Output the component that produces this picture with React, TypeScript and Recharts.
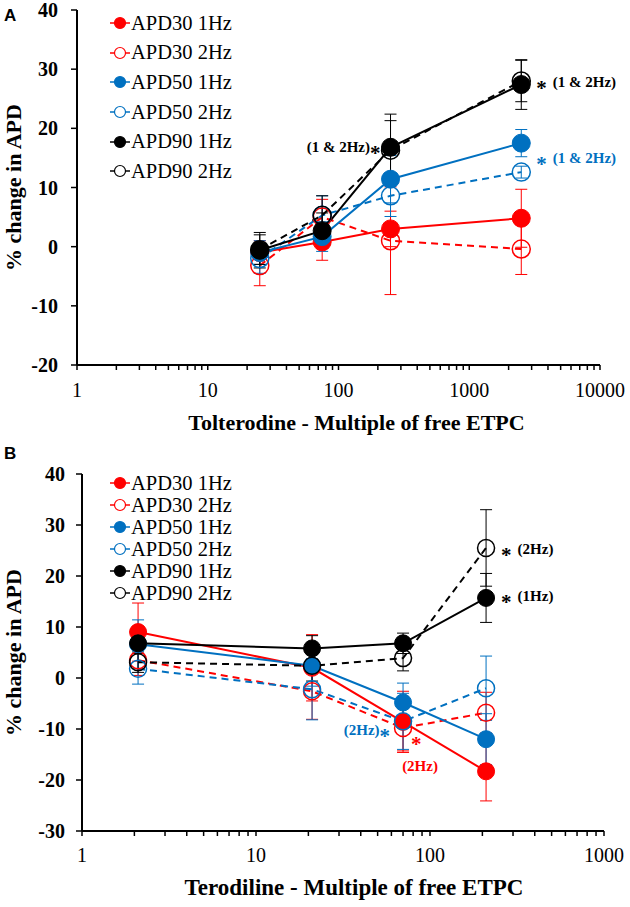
import React from 'react';
import { LineChart, Line, XAxis, YAxis, ErrorBar, ReferenceDot, Label } from 'recharts';

const RED = '#FF0000';
const BLUE = '#0070C0';
const BLACK = '#000000';
const SERIF = 'Liberation Serif, Times New Roman, serif';

// series shared by both panels
const seriesNames = ['APD30 1Hz', 'APD30 2Hz', 'APD50 1Hz', 'APD50 2Hz', 'APD90 1Hz', 'APD90 2Hz'];
const seriesColors = [RED, RED, BLUE, BLUE, BLACK, BLACK];
const seriesOpen = [false, true, false, true, false, true];

// ── Panel A: Tolterodine ──
const tolterodineX = [25, 75, 250, 2500];
const tolApd30_1Hz = [-1.0, 0.8, 3.0, 4.8];
const tolApd30_2Hz = [-3.2, 5.0, 1.0, -0.4];
const tolApd50_1Hz = [-1.0, 1.7, 11.4, 17.5];
const tolApd50_2Hz = [-2.0, 5.3, 8.6, 12.6];
const tolApd90_1Hz = [-0.6, 2.7, 16.8, 27.4];
const tolApd90_2Hz = [-0.5, 5.3, 16.3, 28.0];
const tolErr30_1Hz = [2.0, 3.1, 3.0, 4.9];
const tolErr30_2Hz = [3.4, 3.0, 9.1, 4.3];
const tolErr50_1Hz = [2.0, 2.5, 4.0, 2.3];
const tolErr50_2Hz = [2.5, 3.3, 3.5, 1.0];
const tolErr90_1Hz = [3.0, 3.0, 5.6, 4.2];
const tolErr90_2Hz = [2.5, 3.3, 5.0, 3.5];
const tolMajorTicks = [1, 10, 100, 1000, 10000];
const tolYTicks = [-20, -10, 0, 10, 20, 30, 40];

// ── Panel B: Terodiline ──
const terodilineX = [2.1, 21, 70, 210];
const terApd30_1Hz = [9.0, 2.0, -8.6, -18.3];
const terApd30_2Hz = [3.5, -2.6, -9.8, -6.8];
const terApd50_1Hz = [6.6, 2.4, -4.8, -12.0];
const terApd50_2Hz = [1.8, -2.2, -8.5, -2.0];
const terApd90_1Hz = [6.8, 5.8, 6.8, 15.7];
const terApd90_2Hz = [3.1, 2.4, 3.9, 25.5];
const terErr30_1Hz = [5.7, 6.5, 6.0, 5.8];
const terErr30_2Hz = [3.0, 5.5, 4.5, 4.0];
const terErr50_1Hz = [4.8, 4.0, 3.8, 5.0];
const terErr50_2Hz = [3.0, 6.0, 5.5, 6.3];
const terErr90_1Hz = [2.0, 2.5, 2.0, 4.8];
const terErr90_2Hz = [2.0, 3.0, 2.5, 7.5];
const terMajorTicks = [1, 10, 100, 1000];
const terYTicks = [-30, -20, -10, 0, 10, 20, 30, 40];

// significance notes, placed at a data point and nudged by a few pixels
const tolNotes = [
  { x: 250, y: 16.8, text: '(1 & 2Hz)', star: 'after', color: BLACK, dx: -10, dy: 0 },
  { x: 2500, y: 27.4, text: '(1 & 2Hz)', star: 'before', color: BLACK, dx: 15, dy: -3 },
  { x: 2500, y: 17.5, text: '(1 & 2Hz)', star: 'before', color: BLUE, dx: 15, dy: 15 },
];
const terNotes = [
  { x: 210, y: 25.5, text: '(2Hz)', star: 'before', color: BLACK, dx: 15, dy: 1 },
  { x: 210, y: 15.7, text: '(1Hz)', star: 'before', color: BLACK, dx: 15, dy: -2 },
  { x: 70, y: -8.5, text: '(2Hz)', star: 'after', color: BLUE, dx: -13, dy: 9 },
  { x: 70, y: -8.6, text: '', star: 'only', color: RED, dx: 8, dy: 16 },
  { x: 70, y: -8.6, text: '(2Hz)', star: 'none', color: RED, dx: 17, dy: 44 },
];

const minorTicks = (majors: number[]) =>
  majors.flatMap((d, i) => (i === majors.length - 1 ? [d] : [1, 2, 3, 4, 5, 6, 7, 8, 9].map(m => m * d)));

const toRows = (xs: number[], ys: number[], es: number[]) => xs.map((x, i) => ({ x, y: ys[i], e: es[i] }));

const NoteLabel = ({ viewBox, note }: any) => {
  const cx = viewBox.x + viewBox.width / 2 + note.dx;
  const cy = viewBox.y + viewBox.height / 2 + note.dy;
  const anchor = note.star === 'after' ? 'end' : note.star === 'none' ? 'middle' : 'start';
  return (
    <text x={cx} y={cy} textAnchor={anchor} dominantBaseline="central" fill={note.color}
      fontFamily={SERIF} fontWeight="bold">
      {(note.star === 'before' || note.star === 'only') && <tspan fontSize={21} dy={6}>*</tspan>}
      {note.text && (
        <tspan fontSize={15} dx={note.star === 'before' ? 6 : 0} dy={note.star === 'before' ? -6 : 0}>{note.text}</tspan>
      )}
      {note.star === 'after' && <tspan fontSize={21} dy={6}>*</tspan>}
    </text>
  );
};

const YTitle = ({ viewBox }: any) => {
  const x = viewBox.x + 13;
  const y = viewBox.y + viewBox.height / 2;
  return (
    <text x={x} y={y} transform={`rotate(-90 ${x} ${y})`} textAnchor="middle" dominantBaseline="central"
      fontFamily={SERIF} fontWeight="bold" fontSize={22} fill="#000">% change in APD</text>
  );
};

const XTitle = ({ viewBox, text, dx, dy, size }: any) => (
  <text x={viewBox.x + viewBox.width / 2 + dx} y={viewBox.y + dy} textAnchor="middle" dominantBaseline="central"
    fontFamily={SERIF} fontWeight="bold" fontSize={size} fill="#000">{text}</text>
);

// x tick: only the decades carry a label
const XTick = ({ x, y, payload, majors, dy }: any) =>
  majors.includes(payload.value) ? (
    <text x={x} y={y + dy} textAnchor="middle" dominantBaseline="central" fontFamily={SERIF} fontSize={20} fill="#000">
      {payload.value}
    </text>
  ) : null;

const YTick = ({ x, y, payload, dx }: any) => (
  <text x={x + dx} y={y} textAnchor="end" dominantBaseline="central" fontFamily={SERIF} fontWeight="bold" fontSize={20} fill="#000">
    {payload.value}
  </text>
);

const LegendBox = ({ left, top, gap }: { left: number; top: number; gap: number }) => (
  <div style={{ position: 'absolute', left, top, fontFamily: SERIF, fontSize: 20.5, color: '#000' }}>
    {seriesNames.map((n, i) => (
      <div key={n} style={{ height: gap, display: 'flex', alignItems: 'center' }}>
        <svg width={22} height={14}>
          <line x1={1} y1={7} x2={21} y2={7} stroke={seriesColors[i]} strokeWidth={1.5} />
          <circle cx={11} cy={7} r={5.5} fill={seriesOpen[i] ? '#fff' : seriesColors[i]} stroke={seriesColors[i]} strokeWidth={1.2} />
        </svg>
        <span style={{ lineHeight: 1 }}>{n}</span>
      </div>
    ))}
  </div>
);

interface PanelProps {
  top: number; height: number; marginTop: number; marginRight: number; yAxisWidth: number; xAxisHeight: number;
  xs: number[]; ys: number[][]; errs: number[][]; majors: number[]; yTicks: number[];
  notes: any[]; title: string; titleDx: number; titleDy: number; titleSize: number; markerR: number; xLabelDy: number; yLabelDx: number;
}

function Panel(p: PanelProps) {
  const ticks = minorTicks(p.majors);
  return (
    <div style={{ position: 'absolute', left: 0, top: p.top }}>
      <LineChart width={630} height={p.height}
        margin={{ top: p.marginTop, right: p.marginRight, bottom: 0, left: 0 }}>
        <XAxis dataKey="x" type="number" scale="log" domain={[p.majors[0], p.majors[p.majors.length - 1]]}
          ticks={ticks} interval={0} allowDataOverflow height={p.xAxisHeight}
          axisLine={{ stroke: '#000', strokeWidth: 2 }} tickLine={{ stroke: '#000', strokeWidth: 1.5 }} tickSize={5}
          tickMargin={0} tick={<XTick majors={p.majors} dy={p.xLabelDy} />}>
          <Label content={<XTitle text={p.title} dx={p.titleDx} dy={p.titleDy} size={p.titleSize} />} />
        </XAxis>
        <YAxis type="number" domain={[p.yTicks[0], p.yTicks[p.yTicks.length - 1]]} ticks={p.yTicks} interval={0}
          width={p.yAxisWidth} axisLine={{ stroke: '#000', strokeWidth: 2 }} tickLine={{ stroke: '#000', strokeWidth: 1.5 }}
          tickSize={6} tickMargin={0} tick={<YTick dx={p.yLabelDx} />}>
          <Label content={<YTitle />} />
        </YAxis>
        {seriesNames.map((n, i) => (
          <Line key={n} name={n} data={toRows(p.xs, p.ys[i], p.errs[i])} dataKey="y" isAnimationActive={false}
            stroke={seriesColors[i]} strokeWidth={2} strokeDasharray={seriesOpen[i] ? '7 5' : undefined}
            dot={{ r: p.markerR, fill: seriesOpen[i] ? 'none' : seriesColors[i], stroke: seriesColors[i], strokeWidth: seriesOpen[i] ? 1.5 : 1, strokeDasharray: '' }}
            activeDot={false}>
            <ErrorBar dataKey="e" direction="y" width={6} strokeWidth={1} stroke={seriesColors[i]} isAnimationActive={false} />
          </Line>
        ))}
        {p.notes.map((nt, i) => (
          <ReferenceDot key={i} x={nt.x} y={nt.y} r={0} fill="none" stroke="none" ifOverflow="visible"
            label={<NoteLabel note={nt} />} />
        ))}
      </LineChart>
    </div>
  );
}

export default function App() {
  return (
    <div style={{ position: 'absolute', left: 0, top: 0, width: 630, height: 907, background: '#fff', overflow: 'hidden' }}>
      <Panel top={0} height={440} marginTop={10} marginRight={30} yAxisWidth={77} xAxisHeight={75}
        xs={tolterodineX}
        ys={[tolApd30_1Hz, tolApd30_2Hz, tolApd50_1Hz, tolApd50_2Hz, tolApd90_1Hz, tolApd90_2Hz]}
        errs={[tolErr30_1Hz, tolErr30_2Hz, tolErr50_1Hz, tolErr50_2Hz, tolErr90_1Hz, tolErr90_2Hz]}
        majors={tolMajorTicks} yTicks={tolYTicks} notes={tolNotes}
        title="Tolterodine - Multiple of free ETPC" titleDx={18} titleDy={57} titleSize={22} markerR={9} xLabelDy={20} yLabelDx={-13} />
      <Panel top={440} height={467} marginTop={34} marginRight={26} yAxisWidth={82} xAxisHeight={76}
        xs={terodilineX}
        ys={[terApd30_1Hz, terApd30_2Hz, terApd50_1Hz, terApd50_2Hz, terApd90_1Hz, terApd90_2Hz]}
        errs={[terErr30_1Hz, terErr30_2Hz, terErr50_1Hz, terErr50_2Hz, terErr90_1Hz, terErr90_2Hz]}
        majors={terMajorTicks} yTicks={terYTicks} notes={terNotes}
        title="Terodiline - Multiple of free ETPC" titleDx={11} titleDy={56} titleSize={23} markerR={8.5} xLabelDy={19} yLabelDx={-11} />
      <LegendBox left={109} top={8} gap={29.7} />
      <LegendBox left={109} top={472} gap={22} />
      <div style={{ position: 'absolute', left: 4, top: 6, fontFamily: 'Liberation Sans, Arial, sans-serif', fontWeight: 'bold', fontSize: 17 }}>A</div>
      <div style={{ position: 'absolute', left: 4, top: 444, fontFamily: 'Liberation Sans, Arial, sans-serif', fontWeight: 'bold', fontSize: 17 }}>B</div>
    </div>
  );
}
